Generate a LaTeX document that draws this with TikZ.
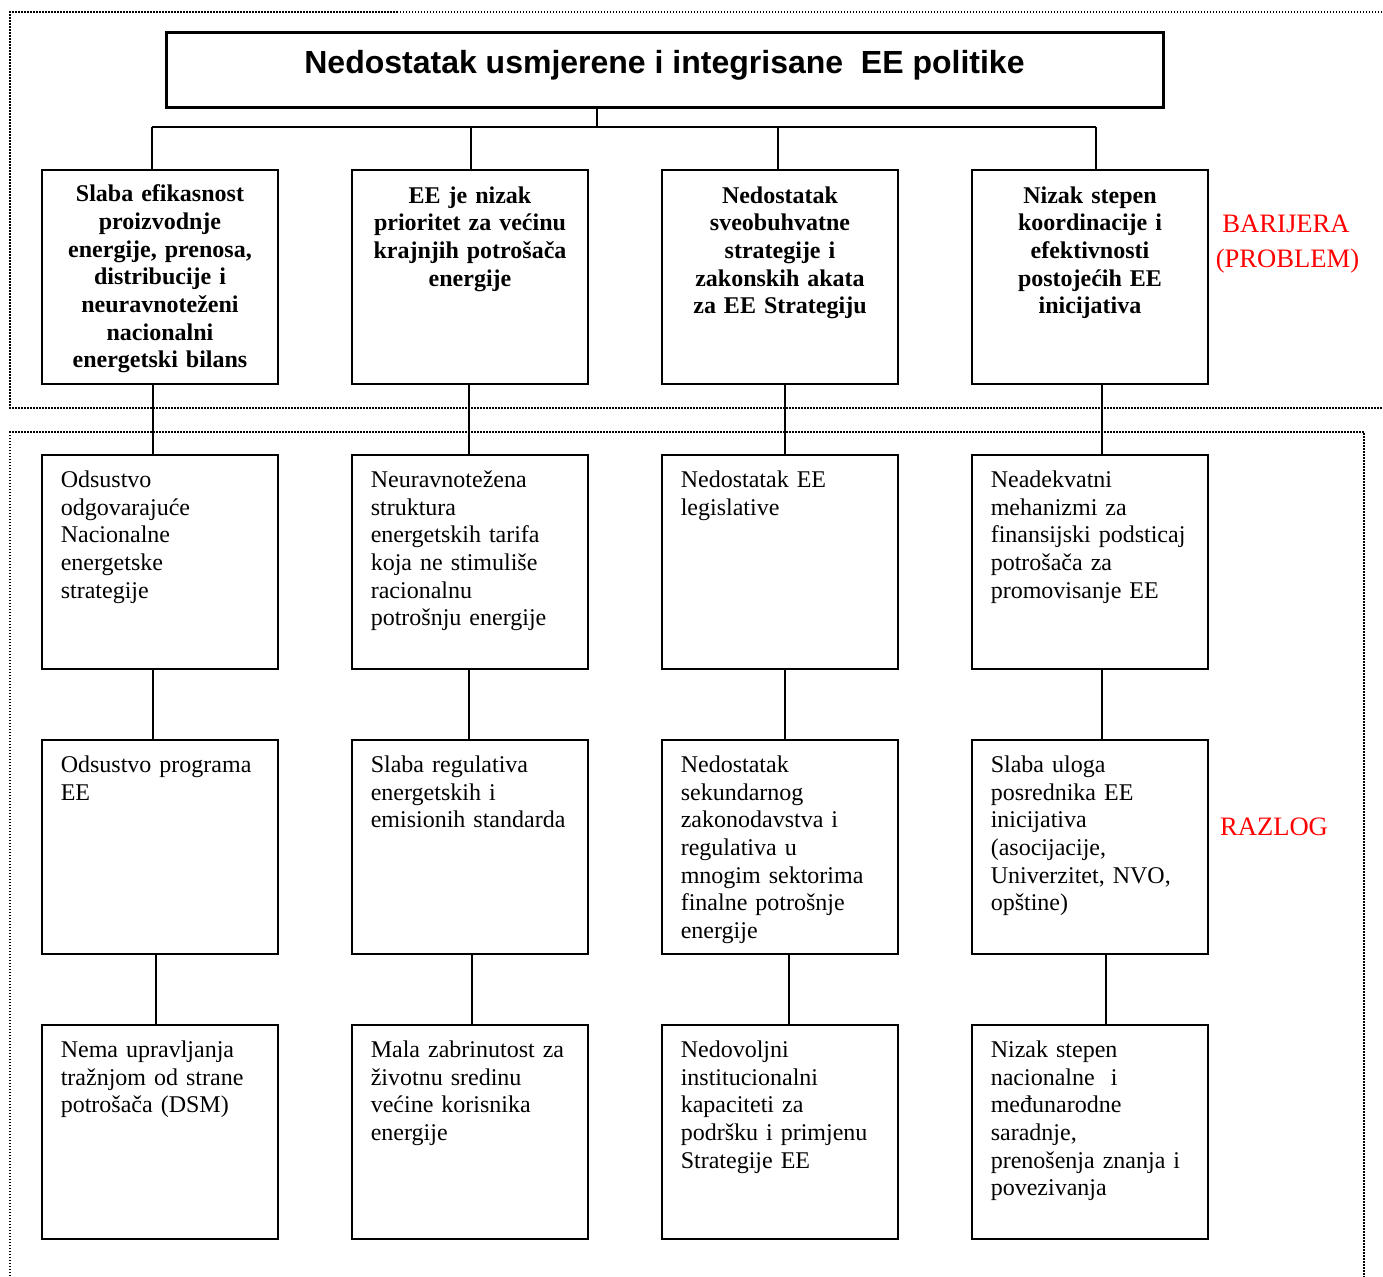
\documentclass[tikz,border=0pt]{standalone}
\usepackage{fontspec}
\setmainfont{Liberation Serif}
\newfontfamily\arialf{Liberation Sans}
\begin{document}
\begin{tikzpicture}[x=0.5pt,y=-0.5pt,
  box/.style={draw, line width=1pt, anchor=north west, minimum width=118pt, minimum height=107pt, inner sep=0pt},
  titlebox/.style={draw, line width=1.5pt, minimum width=498.5pt, minimum height=37.5pt, inner sep=0pt},
  btxt/.style={anchor=north, inner sep=0pt, text width=114pt, align=center, font=\bfseries\fontsize{12}{13.85}\selectfont},
  rtxt/.style={anchor=north west, inner sep=0pt, text width=115pt, align=left, font=\fontsize{12}{13.85}\selectfont},
  conn/.style={line width=0.75pt},
  frame/.style={line width=0.75pt, dash pattern=on 0.75pt off 0.75pt},
  redlab/.style={text=red, anchor=base, inner sep=0pt, font=\fontsize{13.3}{16}\selectfont}]
\useasboundingbox (0,0) rectangle (1383,1276);
\clip (0,0) rectangle (1383,1276);
% frames
\draw[frame] (1400,12) -- (10,12) -- (10,408) -- (1400,408);
\draw[frame] (10,1300) -- (10,432) -- (1364,432) -- (1364,1300);
% title
\node[titlebox] (title) at (664.5,69.5) {};
\node[anchor=base, inner sep=0pt, font=\arialf\bfseries\fontsize{16}{19}\selectfont] (ttl) at (664.5,73.7) {Nedostatak usmjerene i integrisane\ \ EE politike};
% boxes
\node[box] (b01) at (41,169) {};
\node[box] (b02) at (351,169) {};
\node[box] (b03) at (661,169) {};
\node[box] (b04) at (971,169) {};
\node[box] (b11) at (41,454) {};
\node[box] (b12) at (351,454) {};
\node[box] (b13) at (661,454) {};
\node[box] (b14) at (971,454) {};
\node[box] (b21) at (41,739) {};
\node[box] (b22) at (351,739) {};
\node[box] (b23) at (661,739) {};
\node[box] (b24) at (971,739) {};
\node[box] (b31) at (41,1024) {};
\node[box] (b32) at (351,1024) {};
\node[box] (b33) at (661,1024) {};
\node[box] (b34) at (971,1024) {};
% bold texts
\node[btxt] (t01) at ([yshift=-6.4pt]b01.north) {\strut Slaba efikasnost\\ proizvodnje\\ energije, prenosa,\\ distribucije i\\ neuravnoteženi\\ nacionalni\\ energetski bilans};
\node[btxt] (t02) at ([yshift=-7.2pt]b02.north) {\strut EE je nizak\\ prioritet za većinu\\ krajnjih potrošača\\ energije};
\node[btxt] (t03) at ([yshift=-7.2pt]b03.north) {\strut Nedostatak\\ sveobuhvatne\\ strategije i\\ zakonskih akata\\ za EE Strategiju};
\node[btxt] (t04) at ([yshift=-7.2pt]b04.north) {\strut Nizak stepen\\ koordinacije i\\ efektivnosti\\ postojećih EE\\ inicijativa};
% regular texts
\node[rtxt] (t11) at ([xshift=9.7pt,yshift=-6.84pt]b11.north west) {\strut Odsustvo\\ odgovarajuće\\ Nacionalne\\ energetske\\ strategije};
\node[rtxt] (t12) at ([xshift=9.7pt,yshift=-6.84pt]b12.north west) {\strut Neuravnotežena\\ struktura\\ energetskih tarifa\\ koja ne stimuliše\\ racionalnu\\ potrošnju energije};
\node[rtxt] (t13) at ([xshift=9.7pt,yshift=-6.84pt]b13.north west) {\strut Nedostatak EE\\ legislative};
\node[rtxt] (t14) at ([xshift=9.7pt,yshift=-6.84pt]b14.north west) {\strut Neadekvatni\\ mehanizmi za\\ finansijski podsticaj\\ potrošača za\\ promovisanje EE};
\node[rtxt] (t21) at ([xshift=9.7pt,yshift=-6.84pt]b21.north west) {\strut Odsustvo programa\\ EE};
\node[rtxt] (t22) at ([xshift=9.7pt,yshift=-6.84pt]b22.north west) {\strut Slaba regulativa\\ energetskih i\\ emisionih standarda};
\node[rtxt] (t23) at ([xshift=9.7pt,yshift=-6.84pt]b23.north west) {\strut Nedostatak\\ sekundarnog\\ zakonodavstva i\\ regulativa u\\ mnogim sektorima\\ finalne potrošnje\\ energije};
\node[rtxt] (t24) at ([xshift=9.7pt,yshift=-6.84pt]b24.north west) {\strut Slaba uloga\\ posrednika EE\\ inicijativa\\ (asocijacije,\\ Univerzitet, NVO,\\ opštine)};
\node[rtxt] (t31) at ([xshift=9.7pt,yshift=-6.84pt]b31.north west) {\strut Nema upravljanja\\ tražnjom od strane\\ potrošača (DSM)};
\node[rtxt] (t32) at ([xshift=9.7pt,yshift=-6.84pt]b32.north west) {\strut Mala zabrinutost za\\ životnu sredinu\\ većine korisnika\\ energije};
\node[rtxt] (t33) at ([xshift=9.7pt,yshift=-6.84pt]b33.north west) {\strut Nedovoljni\\ institucionalni\\ kapaciteti za\\ podršku i primjenu\\ Strategije EE};
\node[rtxt] (t34) at ([xshift=9.7pt,yshift=-6.84pt]b34.north west) {\strut Nizak stepen\\ nacionalne\ \ i\\ međunarodne\\ saradnje,\\ prenošenja znanja i\\ povezivanja};
% red labels
\node[redlab] (lab1) at (1286,232) {BARIJERA};
\node[redlab] (lab2) at (1287.5,267.5) {(PROBLEM)};
\node[redlab] (lab3) at (1274,835) {RAZLOG};
% trunk connectors
\coordinate (j) at (597,127);
\coordinate (h1) at (152,127);
\coordinate (h2) at (471,127);
\coordinate (h3) at (778,127);
\coordinate (h4) at (1096,127);
\draw[conn] (title.south -| j) -- (j);
\draw[conn] (h1) -- (h4);
\draw[conn] (h1) -- (h1 |- b01.north);
\draw[conn] (h2) -- (h2 |- b02.north);
\draw[conn] (h3) -- (h3 |- b03.north);
\draw[conn] (h4) -- (h4 |- b04.north);
% column connectors
\draw[conn] ([xshift=-3.5pt]b01.south) -- ([xshift=-3.5pt]b11.north);
\draw[conn] ([xshift=-3.5pt]b11.south) -- ([xshift=-3.5pt]b21.north);
\draw[conn] ([xshift=-2pt]b21.south) -- ([xshift=-2pt]b31.north);
\draw[conn] ([xshift=-0.5pt]b02.south) -- ([xshift=-0.5pt]b12.north);
\draw[conn] ([xshift=-0.5pt]b12.south) -- ([xshift=-0.5pt]b22.north);
\draw[conn] ([xshift=1pt]b22.south) -- ([xshift=1pt]b32.north);
\draw[conn] ([xshift=2.5pt]b03.south) -- ([xshift=2.5pt]b13.north);
\draw[conn] ([xshift=2.5pt]b13.south) -- ([xshift=2.5pt]b23.north);
\draw[conn] ([xshift=4.5pt]b23.south) -- ([xshift=4.5pt]b33.north);
\draw[conn] ([xshift=6pt]b04.south) -- ([xshift=6pt]b14.north);
\draw[conn] ([xshift=6pt]b14.south) -- ([xshift=6pt]b24.north);
\draw[conn] ([xshift=8pt]b24.south) -- ([xshift=8pt]b34.north);
\end{tikzpicture}
\end{document}
